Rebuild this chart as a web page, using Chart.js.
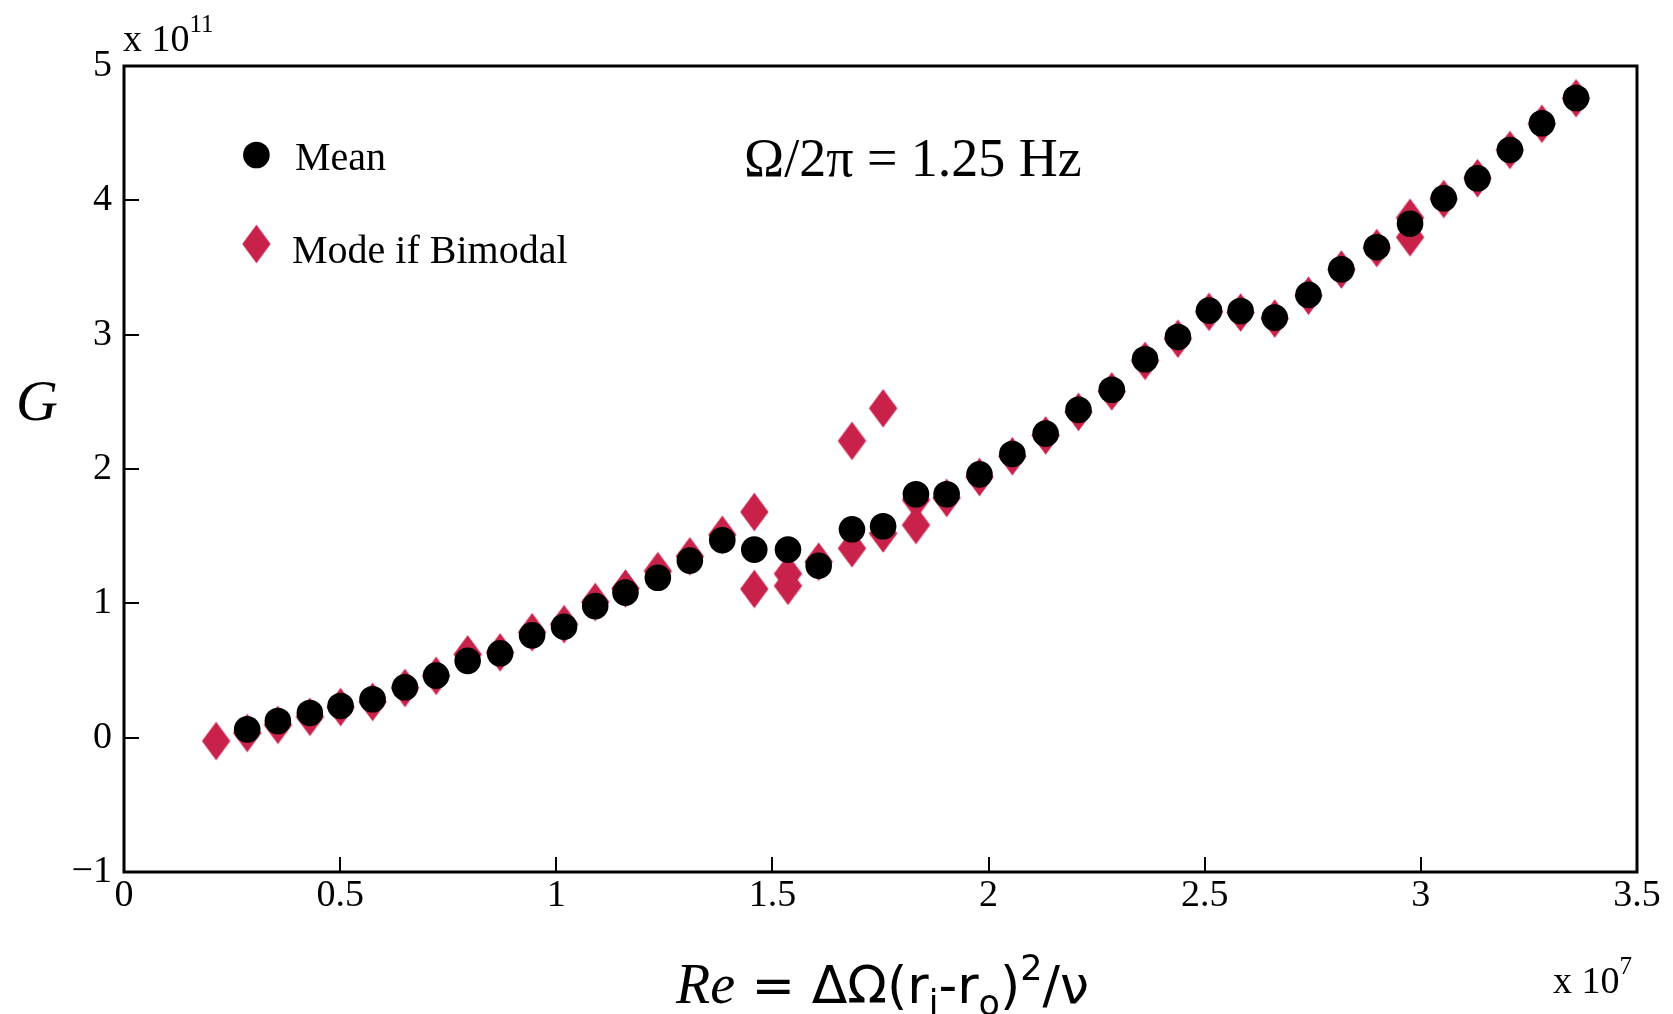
<!DOCTYPE html>
<html>
<head>
<meta charset="utf-8">
<script src="https://cdn.jsdelivr.net/npm/chart.js@4.4.1/dist/chart.umd.min.js"></script>
<style>
  html, body { margin: 0; padding: 0; background: #ffffff; overflow: hidden; }
  #wrap { width: 1673px; height: 1014px; position: relative; }
  canvas { display: block; }
</style>
</head>
<body>
<div id="wrap"><canvas id="chart" width="1673" height="1014"></canvas></div>
<script>
// Reynolds number in units of 1e7, torque G in units of 1e11
const meanRe = [0.285, 0.356, 0.430, 0.501, 0.575, 0.650, 0.722, 0.795, 0.870, 0.944,
                1.018, 1.090, 1.160, 1.235, 1.309, 1.384, 1.458, 1.536, 1.607, 1.684,
                1.756, 1.832, 1.903, 1.979, 2.055, 2.132, 2.208, 2.285, 2.362, 2.438,
                2.510, 2.583, 2.662, 2.740, 2.816, 2.898, 2.975, 3.053, 3.131, 3.206,
                3.280, 3.359];
const meanG  = [0.062, 0.124, 0.184, 0.236, 0.286, 0.375, 0.462, 0.572, 0.628, 0.762,
                0.826, 0.980, 1.080, 1.190, 1.318, 1.470, 1.400, 1.400, 1.280, 1.551,
                1.574, 1.812, 1.812, 1.960, 2.112, 2.263, 2.440, 2.590, 2.817, 2.983,
                3.179, 3.176, 3.127, 3.296, 3.487, 3.651, 3.826, 4.015, 4.164, 4.375,
                4.574, 4.762];

// Mode of the distribution (two entries where the distribution is bimodal)
const modeRe = [0.213, 0.285, 0.356, 0.430, 0.501, 0.575, 0.650, 0.722, 0.795, 0.870,
                0.944, 1.018, 1.090, 1.160, 1.235, 1.309, 1.384, 1.458, 1.458, 1.536,
                1.536, 1.607, 1.684, 1.684, 1.756, 1.756, 1.832, 1.832, 1.903, 1.979,
                2.055, 2.132, 2.208, 2.285, 2.362, 2.438, 2.510, 2.583, 2.662, 2.740,
                2.816, 2.898, 2.975, 2.975, 3.053, 3.131, 3.206, 3.280, 3.359];
const modeG  = [-0.025, 0.035, 0.095, 0.155, 0.228, 0.266, 0.370, 0.460, 0.620, 0.635,
                0.785, 0.845, 1.010, 1.110, 1.240, 1.350, 1.510, 1.680, 1.107, 1.220,
                1.130, 1.310, 2.209, 1.410, 2.452, 1.520, 1.770, 1.583, 1.785, 1.940,
                2.095, 2.250, 2.425, 2.578, 2.805, 2.970, 3.170, 3.165, 3.120, 3.290,
                3.485, 3.645, 3.870, 3.725, 4.010, 4.165, 4.375, 4.570, 4.760];

const xTickValues = [0, 0.5, 1, 1.5, 2, 2.5, 3, 3.5];
const xTickLabels = ['0', '0.5', '1', '1.5', '2', '2.5', '3', '3.5'];
const yTickValues = [-1, 0, 1, 2, 3, 4, 5];
const yTickLabels = ['\u22121', '0', '1', '2', '3', '4', '5'];

const seriesNames = ['Mean', 'Mode if Bimodal'];
const annotationText = '\u03A9/2\u03C0 = 1.25 Hz';

const RED = '#C8214A';
const SERIF = '"Liberation Serif", "Times New Roman", serif';
const SANS = '"DejaVu Sans", "Liberation Sans", sans-serif';

// tall diamond marker used for the mode series
function makeDiamond(hw, hh, color) {
  const c = document.createElement('canvas');
  c.width = Math.ceil(hw * 2) + 2;
  c.height = Math.ceil(hh * 2) + 2;
  const g = c.getContext('2d');
  const cx = c.width / 2, cy = c.height / 2;
  g.fillStyle = color;
  g.beginPath();
  g.moveTo(cx, cy - hh);
  g.lineTo(cx + hw, cy);
  g.lineTo(cx, cy + hh);
  g.lineTo(cx - hw, cy);
  g.closePath();
  g.fill();
  return c;
}
const diamond = makeDiamond(14.2, 19.3, RED);

const toPoints = (xs, ys) => xs.map((x, i) => ({ x: x, y: ys[i] }));

// draws a run of text pieces left to right; each piece may change font and baseline shift
function drawRuns(ctx, x, y, runs) {
  let cx = x;
  ctx.textAlign = 'left';
  ctx.textBaseline = 'alphabetic';
  for (const r of runs) {
    ctx.font = r.font;
    ctx.fillText(r.text, cx, y + (r.dy || 0));
    cx += ctx.measureText(r.text).width;
  }
}

const decorations = {
  id: 'decorations',
  afterDraw(chart) {
    const ctx = chart.ctx;
    const a = chart.chartArea;
    const xs = chart.scales.x, ys = chart.scales.y;
    ctx.save();
    ctx.fillStyle = '#000';
    ctx.strokeStyle = '#000';

    // inward tick marks
    ctx.lineWidth = 2;
    ctx.beginPath();
    xTickValues.forEach(v => {
      const px = Math.round(xs.getPixelForValue(v));
      ctx.moveTo(px, a.bottom);
      ctx.lineTo(px, a.bottom - 15);
    });
    yTickValues.forEach(v => {
      const py = Math.round(ys.getPixelForValue(v));
      ctx.moveTo(a.left, py);
      ctx.lineTo(a.left + 15, py);
    });
    ctx.stroke();

    // frame
    ctx.lineWidth = 3;
    ctx.strokeRect(a.left, a.top, a.right - a.left, a.bottom - a.top);

    // legend
    ctx.beginPath();
    ctx.arc(256.4, 155, 13.3, 0, Math.PI * 2);
    ctx.fill();
    ctx.drawImage(diamond, 256.4 - diamond.width / 2, 244 - diamond.height / 2);
    ctx.font = '40px ' + SERIF;
    ctx.textAlign = 'left';
    ctx.textBaseline = 'alphabetic';
    ctx.fillText(seriesNames[0], 295, 170);
    ctx.fillText(seriesNames[1], 292, 263);

    // rotation rate
    ctx.font = '54px ' + SERIF;
    ctx.fillText(annotationText, 744, 176);

    // exponent labels
    drawRuns(ctx, 123, 51, [
      { text: 'x 10', font: '38px ' + SERIF },
      { text: '11', font: '25px ' + SERIF, dy: -19 }
    ]);
    drawRuns(ctx, 1553, 993, [
      { text: 'x 10', font: '38px ' + SERIF },
      { text: '7', font: '25px ' + SERIF, dy: -19 }
    ]);

    // axis titles
    ctx.font = 'italic 58px ' + SERIF;
    ctx.textAlign = 'center';
    ctx.fillText('G', 37, 420);

    drawRuns(ctx, 676, 1003, [
      { text: 'Re', font: 'italic 56px ' + SERIF },
      { text: ' = \u0394\u03A9(r', font: '52px ' + SANS },
      { text: 'i', font: '35px ' + SANS, dy: 12 },
      { text: '-r', font: '52px ' + SANS },
      { text: 'o', font: '35px ' + SANS, dy: 12 },
      { text: ')', font: '52px ' + SANS },
      { text: '2', font: '35px ' + SANS, dy: -23 },
      { text: '/\u03BD', font: '52px ' + SANS }
    ]);
    ctx.restore();
  }
};

new Chart(document.getElementById('chart'), {
  type: 'scatter',
  data: {
    datasets: [
      {
        label: seriesNames[0],
        data: toPoints(meanRe, meanG),
        pointStyle: 'circle',
        pointRadius: 13.3,
        pointBackgroundColor: '#000',
        pointBorderColor: '#000',
        pointBorderWidth: 0,
        order: 0
      },
      {
        label: seriesNames[1],
        data: toPoints(modeRe, modeG),
        pointStyle: diamond,
        pointRadius: 14,
        pointBackgroundColor: RED,
        pointBorderColor: RED,
        order: 1
      }
    ]
  },
  options: {
    responsive: false,
    animation: false,
    devicePixelRatio: 1,
    events: [],
    layout: { padding: { top: 66, right: 36, left: 0, bottom: 0 } },
    plugins: { legend: { display: false }, title: { display: false }, tooltip: { enabled: false } },
    scales: {
      x: {
        type: 'linear',
        min: 0, max: 3.5,
        afterFit: s => { s.height = 142; },
        afterBuildTicks: s => { s.ticks = xTickValues.map(v => ({ value: v })); },
        grid: { display: false, drawTicks: false },
        border: { display: false },
        ticks: {
          padding: 1,
          maxRotation: 0,
          autoSkip: false,
          color: '#000',
          font: { family: SERIF, size: 38 },
          callback: v => xTickLabels[xTickValues.indexOf(v)]
        }
      },
      y: {
        type: 'linear',
        min: -1, max: 5,
        afterFit: s => { s.width = 124; },
        afterBuildTicks: s => { s.ticks = yTickValues.map(v => ({ value: v })); },
        grid: { display: false, drawTicks: false },
        border: { display: false },
        ticks: {
          padding: 12,
          autoSkip: false,
          color: '#000',
          font: { family: SERIF, size: 38 },
          callback: v => yTickLabels[yTickValues.indexOf(v)]
        }
      }
    }
  },
  plugins: [decorations]
});
</script>
</body>
</html>
